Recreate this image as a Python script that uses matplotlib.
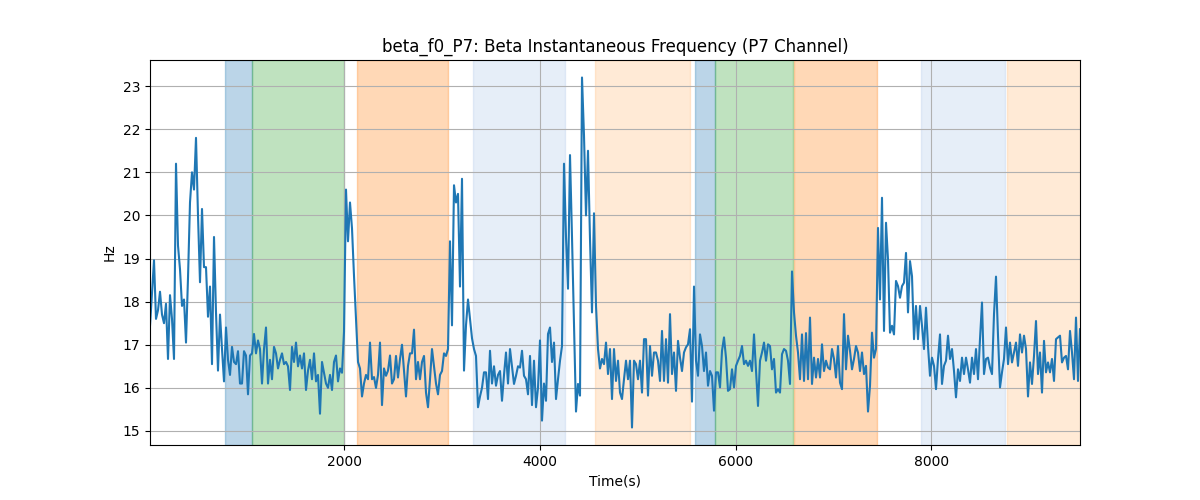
import numpy as np
import matplotlib
matplotlib.use("Agg")
import matplotlib.pyplot as plt

# beta instantaneous frequency (Hz), uniform sampling
freq_a = [17.44, 18.2, 18.96, 17.6, 17.8, 18.23, 17.7, 17.5, 17.95, 16.67,
          18.15, 17.6, 16.67, 21.2, 19.3, 18.75, 17.9, 18.05, 17.05, 18.55,
          20.3, 21.0, 20.6, 21.8, 20.0, 18.45, 20.15, 18.8, 18.8, 17.65,
          18.35, 16.55, 19.5, 17.75, 16.4, 17.7, 16.9, 16.15, 17.4, 16.65,
          16.3, 16.95, 16.6, 16.55, 16.85, 16.1, 16.1, 16.85, 16.75, 15.85,
          16.75, 16.8, 17.25, 16.8, 17.1, 16.9, 16.1, 16.9, 17.4, 16.1,
          16.65, 16.2, 16.95, 16.8, 16.45, 16.65, 16.8, 16.55, 16.6, 16.5,
          15.95, 16.95, 16.6, 17.05, 16.5, 16.75, 16.45, 16.8, 15.95, 16.4,
          16.65, 16.2, 16.8, 16.15, 16.3, 15.4, 16.6, 16.35, 16.1, 16.0,
          16.3, 15.95, 16.6, 16.75, 16.15, 16.45, 16.35, 17.3, 20.6, 19.4,
          20.3, 19.7, 18.6, 17.6, 16.6, 16.45, 15.8, 16.1, 16.3, 16.2,
          17.05, 16.2, 16.25, 16.0, 16.3, 17.05, 15.6, 16.45]
freq_b = [16.28, 16.4, 16.75, 16.1, 16.2, 16.74, 16.24, 16.67, 17.0, 16.4,
          15.8, 16.51, 16.8, 16.8, 17.35, 16.2, 16.6, 16.2, 16.6, 16.74,
          15.89, 15.55, 16.2, 16.9, 16.5, 16.1, 15.85, 16.3, 16.39, 16.8,
          16.74, 16.9, 19.4, 17.45, 20.7, 20.3, 20.5, 18.35, 20.85, 16.4,
          17.45, 18.05, 17.6, 17.15, 16.9, 16.74, 15.55, 15.8, 16.0, 16.36,
          16.36, 15.74, 16.86, 16.1, 16.5, 16.05, 16.3, 16.39, 15.7, 16.3,
          16.82, 16.1, 16.9, 16.5, 16.09, 16.28, 16.5, 16.47, 16.86, 16.28,
          16.2, 15.85, 16.74, 15.6, 16.63, 15.55, 16.0, 17.1, 15.24, 16.1,
          15.7, 17.25, 17.4, 16.6, 17.05, 15.74, 16.2, 16.63, 16.97, 21.2,
          19.5, 18.3, 21.4, 19.5, 17.45, 15.45, 16.09, 15.82, 23.2, 21.85,
          20.0, 21.5, 19.45, 17.75, 20.05, 17.9, 16.9, 16.45, 16.67, 16.55,
          17.05, 16.32, 16.9, 15.74, 16.9]
freq_c = [16.16, 16.63, 15.89, 15.74, 16.2, 16.63, 16.2, 16.63, 15.08, 16.63,
          16.55, 16.2, 16.63, 15.89, 17.13, 17.13, 15.82, 16.97, 16.28, 16.82,
          16.82, 16.63, 16.16, 17.32, 16.16, 17.13, 16.12, 17.71, 16.32, 16.82,
          15.93, 17.09, 16.7, 16.39, 16.82, 16.94, 17.01, 17.36, 15.68, 18.35,
          16.63, 16.28, 17.24, 16.97, 16.39, 16.82, 16.05, 16.39, 16.28, 15.47,
          16.36, 16.36, 16.01, 16.86, 17.17, 16.7, 15.93, 15.97, 16.43, 16.01,
          16.51, 16.63, 16.74, 16.97, 16.55, 16.63, 16.51, 16.63, 16.39, 17.24,
          16.43, 15.58, 16.63, 16.82, 17.05, 16.63, 17.01, 16.97, 16.43, 16.67,
          15.89, 15.97, 15.89, 16.78, 16.9, 16.86, 16.63, 16.09, 18.7, 17.75,
          17.21, 16.82, 16.2, 17.24, 16.16, 17.27, 16.2, 17.63, 16.09, 16.7,
          16.24, 16.67, 16.24, 17.01, 16.39, 16.63, 16.47, 16.43, 16.9, 16.67,
          16.24, 16.97, 16.12, 15.97, 17.71]
freq_d = [16.43, 17.21, 16.86, 16.43, 16.67, 16.97, 16.82, 16.39, 16.82, 16.32,
          16.51, 15.45, 16.05, 17.28, 16.7, 16.9, 19.71, 18.05, 20.41, 17.32,
          19.83, 18.98, 17.28, 17.44, 17.24, 18.48, 18.36, 18.09, 18.36, 18.44,
          19.13, 17.75, 18.94, 18.59, 17.13, 17.9, 17.13, 17.9, 17.44, 16.9,
          17.86, 16.97, 16.28, 16.7, 16.51, 15.97, 16.67, 17.24, 16.09, 16.51,
          16.63, 17.21, 16.67, 16.9, 16.39, 15.78, 16.43, 16.16, 16.7, 16.32,
          16.7, 16.43, 16.12, 16.7, 16.32, 16.9, 16.2, 17.13, 17.98, 16.32,
          16.67, 16.7, 16.47, 16.32, 17.71, 18.58, 17.21, 16.01, 16.36, 16.67,
          17.4, 16.55, 17.05, 16.59, 16.82, 17.05, 16.51, 17.24, 16.82, 17.21,
          16.9, 15.8, 16.59, 16.09, 16.74, 17.55, 16.32, 16.82, 15.89, 17.09,
          16.36, 16.59, 16.36, 16.67, 16.16, 17.13, 17.17, 17.21, 16.59, 16.7,
          16.74, 16.43, 17.32, 16.82, 16.2, 17.63, 16.16, 17.36]
freq = np.array(freq_a + freq_b + freq_c + freq_d)
t0 = 14.3
dt = 20.44
time = t0 + dt * np.arange(len(freq))

# shaded task epochs: (start, end, colour, alpha)
span_start = [784, 1060, 2130, 3315, 4562, 5584, 5792, 6593, 7894, 8770]
span_end = [1054, 2000, 3057, 4252, 5533, 5792, 6583, 7441, 8749, 9600]
span_color = ["tab:blue", "tab:green", "tab:orange", "#aec7e8", "#ffbb78",
              "tab:blue", "tab:green", "tab:orange", "#aec7e8", "#ffbb78"]

fig, ax = plt.subplots(figsize=(12, 5), dpi=100)

for s, e, c in zip(span_start, span_end, span_color):
    ax.axvspan(s, e, color=c, alpha=0.3)

ax.plot(time, freq, color="tab:blue")
ax.set_xlim(time[0], time[-1])
ax.grid(True)
ax.set_title("beta_f0_P7: Beta Instantaneous Frequency (P7 Channel)")
ax.set_xlabel("Time(s)")
ax.set_ylabel("Hz")

fig.savefig("out.png")
